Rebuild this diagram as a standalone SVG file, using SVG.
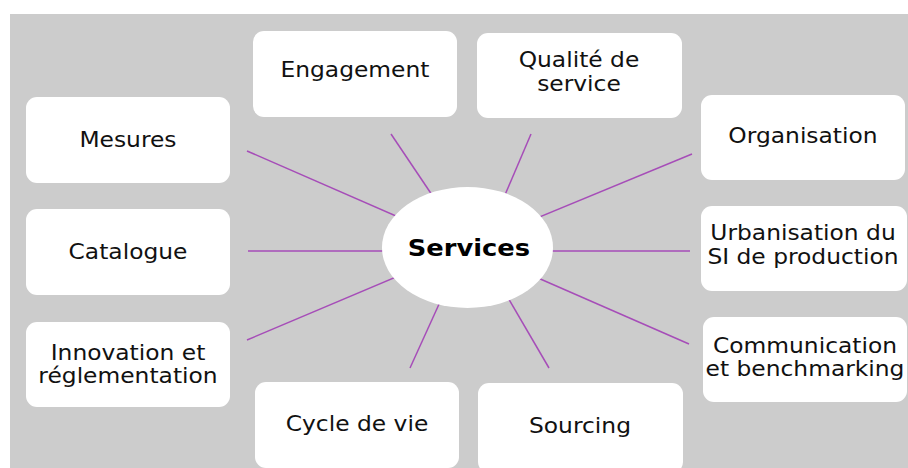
<svg xmlns="http://www.w3.org/2000/svg" width="908" height="468" viewBox="0 0 908 468">
<style>
.bg{fill:#cccccc}
.box{fill:#ffffff}
.t{font-family:"DejaVu Sans","Verdana",sans-serif;font-size:20.5px;fill:#111111;text-anchor:middle;transform-box:fill-box;transform-origin:center;transform:scaleX(1.14)}
.c{font-weight:bold;font-size:23px;fill:#000;transform:scaleX(1.12)}
.ln{stroke:#a64db8;stroke-width:1.5;fill:none}
</style>
<rect x="0" y="0" width="908" height="468" fill="#ffffff"/>
<rect class="bg" x="10" y="14" width="898" height="454"/>
<g id="connectors">
<line class="ln" x1="247" y1="151" x2="467" y2="247"/>
<line class="ln" x1="248" y1="251" x2="467" y2="251"/>
<line class="ln" x1="247" y1="340" x2="467" y2="247"/>
<line class="ln" x1="692" y1="154" x2="467" y2="247"/>
<line class="ln" x1="690" y1="251" x2="467" y2="251"/>
<line class="ln" x1="689" y1="344" x2="467" y2="247"/>
<line class="ln" x1="391" y1="134" x2="467" y2="247"/>
<line class="ln" x1="531" y1="134" x2="490" y2="230"/>
<line class="ln" x1="410" y1="368" x2="450" y2="280"/>
<line class="ln" x1="549" y1="368" x2="490" y2="267"/>
</g>
<g id="services">
<ellipse cx="467.5" cy="247.5" rx="85.5" ry="60.5" fill="#ffffff"/>
<text class="t c" x="469" y="256">Services</text>
</g>
<g id="engagement">
<rect class="box" x="253" y="31" width="204" height="86" rx="11"/>
<text class="t" x="355" y="77">Engagement</text>
</g>
<g id="qualite">
<rect class="box" x="477" y="33" width="205" height="85" rx="11"/>
<text class="t" x="579" y="67">Qualité de<tspan x="579" dy="24">service</tspan></text>
</g>
<g id="mesures">
<rect class="box" x="26" y="97" width="204" height="86" rx="11"/>
<text class="t" x="128" y="147">Mesures</text>
</g>
<g id="organisation">
<rect class="box" x="701" y="95" width="204" height="85" rx="11"/>
<text class="t" x="803" y="143">Organisation</text>
</g>
<g id="catalogue">
<rect class="box" x="26" y="209" width="204" height="86" rx="11"/>
<text class="t" x="128" y="259">Catalogue</text>
</g>
<g id="urbanisation">
<rect class="box" x="701" y="206" width="206" height="85" rx="11"/>
<text class="t" x="803" y="240">Urbanisation du<tspan x="803" dy="24">SI de production</tspan></text>
</g>
<g id="innovation">
<rect class="box" x="26" y="322" width="204" height="85" rx="11"/>
<text class="t" x="128" y="360">Innovation et<tspan x="128" dy="23">réglementation</tspan></text>
</g>
<g id="communication">
<rect class="box" x="703" y="317" width="204" height="85" rx="11"/>
<text class="t" x="805" y="353">Communication<tspan x="805" dy="23">et benchmarking</tspan></text>
</g>
<g id="cycle">
<rect class="box" x="255" y="382" width="204" height="86" rx="11"/>
<text class="t" x="357" y="431">Cycle de vie</text>
</g>
<g id="sourcing">
<rect class="box" x="478" y="383" width="205" height="90" rx="11"/>
<text class="t" x="580" y="433">Sourcing</text>
</g>
</svg>
